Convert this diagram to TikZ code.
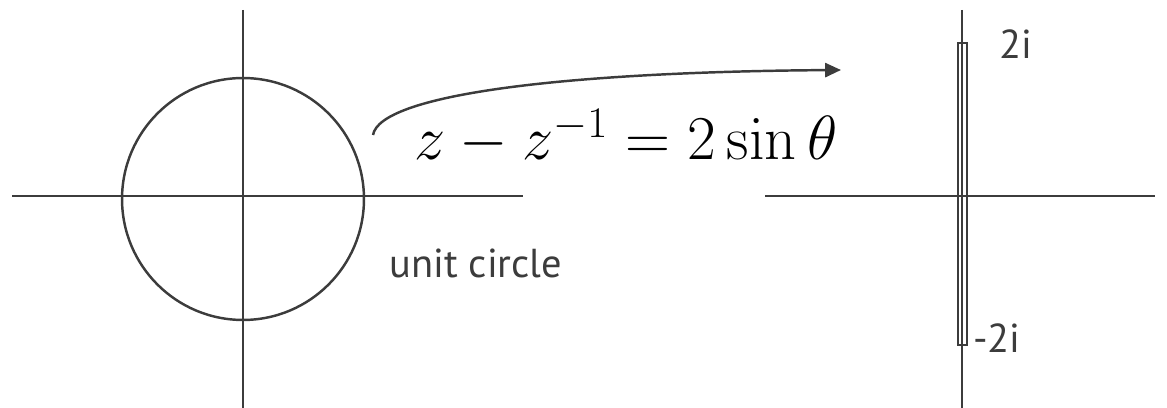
\documentclass[tikz,border=0pt]{standalone}
\usepackage{fix-cm}
\usepackage{amsmath}
\usepackage[no-math]{fontspec}
\setsansfont{PT Sans}
\usepackage{tikz}
\usetikzlibrary{arrows.meta,positioning}
\definecolor{axisgray}{RGB}{60,60,60}

\begin{document}
\begin{tikzpicture}[x=0.02cm, y=-0.02cm, line width=1.4pt, axisgray,
    every node/.style={font=\sffamily\fontsize{23}{27}\selectfont, text=axisgray},
    axis/.style={draw=axisgray},
    lbl/.style={inner sep=0pt}]
    \useasboundingbox (0,0) rectangle (1167,408);
    % left plane
    \coordinate (lw) at (12,196);
    \coordinate (le) at (523,196);
    \coordinate (ln) at (243,10);
    \coordinate (ls) at (243,408);
    \draw[axis] (lw) -- (le);
    \draw[axis] (ln) -- (ls);
    \node[draw=axisgray, circle, minimum size=4.84cm, inner sep=0pt] (ucircle) at (243,199) {};
    \node[lbl] (ulabel) at (476,263) {unit circle};
    % right plane
    \coordinate (rw) at (765,196);
    \coordinate (re) at (1155,196);
    \coordinate (rn) at (962,10);
    \coordinate (rs) at (962,408);
    \draw[axis] (rw) -- (re);
    \draw[axis] (rn) -- (rs);
    \node[draw=axisgray, rectangle, minimum width=0.18cm, minimum height=6.04cm, inner sep=0pt] (slit) at (962.5,194) {};
    \node[lbl] (top) at (1016,44) {2i};
    \node[lbl] (bot) at (997,338) {-2i};
    % the map
    \coordinate (mapfrom) at (373,135);
    \coordinate (mapto) at (841,70);
    \draw[-{Triangle[length=9pt,width=8pt]}] (mapfrom) .. controls (380,95) and (560,72) .. (mapto);
    \node[lbl, anchor=base, font=\rmfamily\fontsize{35.5}{42}\selectfont, text=black] (formula) at (626,160) {$z - z^{-1} = 2\sin\theta$};
\end{tikzpicture}
\end{document}
